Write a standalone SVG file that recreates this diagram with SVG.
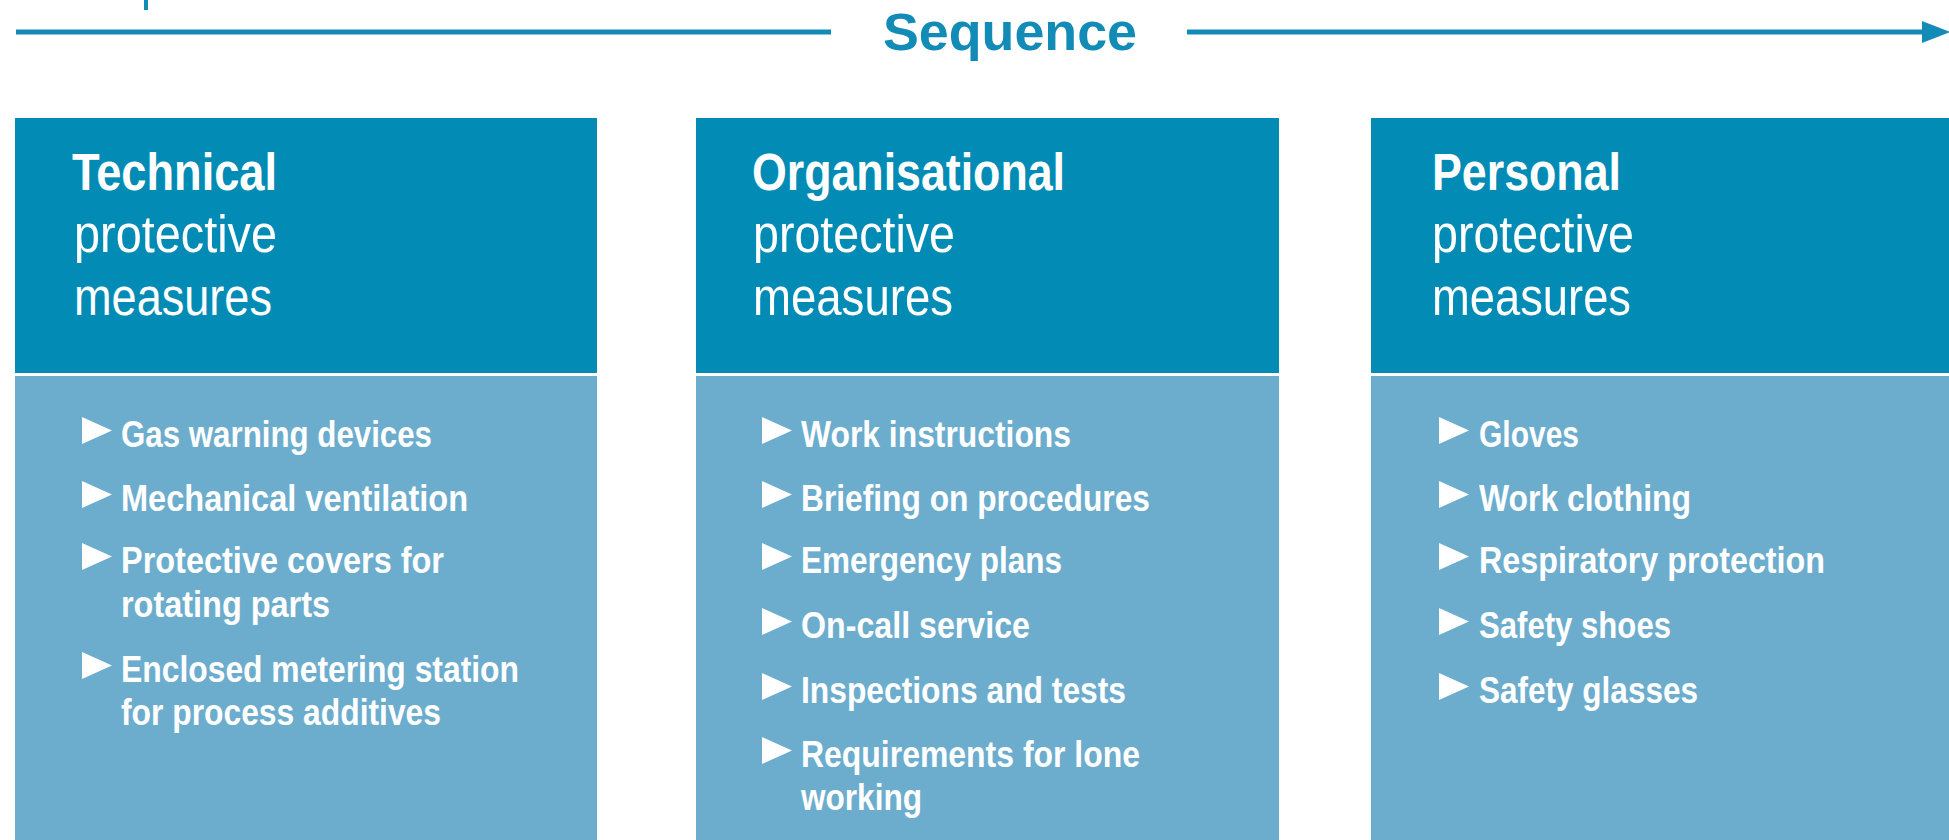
<svg xmlns="http://www.w3.org/2000/svg" width="1949" height="840" viewBox="0 0 1949 840">
  <style>
    .head { fill: #028cb5; }
    .body { fill: #6cadce; }
    .title { font-family: "Liberation Sans Narrow", "Liberation Sans", Arial, sans-serif; font-size: 51px; fill: #ffffff; }
    .title-b { font-weight: bold; }
    .item { font-family: "Liberation Sans Narrow", "Liberation Sans", Arial, sans-serif; font-size: 36px; font-weight: bold; fill: #ffffff; }
    .seq { font-family: "Liberation Sans", Arial, sans-serif; font-size: 51px; font-weight: bold; fill: #128bb6; }
    .axis { stroke: #128bb6; stroke-width: 5; fill: none; }
    .bullet { fill: #ffffff; }
  </style>
  <defs>
    <marker id="arrow" markerUnits="userSpaceOnUse" markerWidth="30" markerHeight="22" refX="0" refY="11" orient="auto" overflow="visible">
      <path d="M0,0 L28,11 L0,22 z" fill="#128bb6"/>
    </marker>
    <polygon id="tri" points="0,0 30,13.5 0,27" class="bullet"/>
  </defs>

  <rect width="1949" height="840" fill="#ffffff"/>

  <!-- small tick at the top edge -->
  <rect x="144" y="0" width="4" height="10" fill="#128bb6"/>

  <!-- sequence axis -->
  <g id="connectors">
    <line class="axis" x1="16" y1="32" x2="831" y2="32"/>
    <line class="axis" x1="1187" y1="32" x2="1922" y2="32" marker-end="url(#arrow)"/>
  </g>
  <text class="seq" x="883" y="50" textLength="254" lengthAdjust="spacingAndGlyphs">Sequence</text>

  <!-- Technical -->
  <g id="technical">
    <rect class="head" x="15" y="118" width="582" height="255"/>
    <rect class="body" x="15" y="376" width="582" height="464"/>
    <text class="title title-b" x="72" y="190" textLength="205" lengthAdjust="spacingAndGlyphs">Technical</text>
    <text class="title" x="74" y="252" textLength="203" lengthAdjust="spacingAndGlyphs">protective</text>
    <text class="title" x="74" y="315" textLength="198" lengthAdjust="spacingAndGlyphs">measures</text>
    <use href="#tri" x="82" y="417"/>
    <use href="#tri" x="82" y="481"/>
    <use href="#tri" x="82" y="543"/>
    <use href="#tri" x="82" y="652"/>
    <text class="item" x="121" y="447" textLength="311" lengthAdjust="spacingAndGlyphs">Gas warning devices</text>
    <text class="item" x="121" y="511" textLength="347" lengthAdjust="spacingAndGlyphs">Mechanical ventilation</text>
    <text class="item" x="121" y="573" textLength="323" lengthAdjust="spacingAndGlyphs">Protective covers for</text>
    <text class="item" x="121" y="617" textLength="209" lengthAdjust="spacingAndGlyphs">rotating parts</text>
    <text class="item" x="121" y="682" textLength="398" lengthAdjust="spacingAndGlyphs">Enclosed metering station</text>
    <text class="item" x="121" y="725" textLength="320" lengthAdjust="spacingAndGlyphs">for process additives</text>
  </g>

  <!-- Organisational -->
  <g id="organisational">
    <rect class="head" x="696" y="118" width="583" height="255"/>
    <rect class="body" x="696" y="376" width="583" height="464"/>
    <text class="title title-b" x="752" y="190" textLength="313" lengthAdjust="spacingAndGlyphs">Organisational</text>
    <text class="title" x="753" y="252" textLength="202" lengthAdjust="spacingAndGlyphs">protective</text>
    <text class="title" x="753" y="315" textLength="200" lengthAdjust="spacingAndGlyphs">measures</text>
    <use href="#tri" x="762" y="417"/>
    <use href="#tri" x="762" y="481"/>
    <use href="#tri" x="762" y="543"/>
    <use href="#tri" x="762" y="608"/>
    <use href="#tri" x="762" y="673"/>
    <use href="#tri" x="762" y="737"/>
    <text class="item" x="801" y="447" textLength="270" lengthAdjust="spacingAndGlyphs">Work instructions</text>
    <text class="item" x="801" y="511" textLength="349" lengthAdjust="spacingAndGlyphs">Briefing on procedures</text>
    <text class="item" x="801" y="573" textLength="261" lengthAdjust="spacingAndGlyphs">Emergency plans</text>
    <text class="item" x="801" y="638" textLength="229" lengthAdjust="spacingAndGlyphs">On-call service</text>
    <text class="item" x="801" y="703" textLength="325" lengthAdjust="spacingAndGlyphs">Inspections and tests</text>
    <text class="item" x="801" y="767" textLength="339" lengthAdjust="spacingAndGlyphs">Requirements for lone</text>
    <text class="item" x="801" y="810" textLength="121" lengthAdjust="spacingAndGlyphs">working</text>
  </g>

  <!-- Personal -->
  <g id="personal">
    <rect class="head" x="1371" y="118" width="582" height="255"/>
    <rect class="body" x="1371" y="376" width="582" height="464"/>
    <text class="title title-b" x="1432" y="190" textLength="189" lengthAdjust="spacingAndGlyphs">Personal</text>
    <text class="title" x="1432" y="252" textLength="202" lengthAdjust="spacingAndGlyphs">protective</text>
    <text class="title" x="1432" y="315" textLength="199" lengthAdjust="spacingAndGlyphs">measures</text>
    <use href="#tri" x="1439" y="417"/>
    <use href="#tri" x="1439" y="481"/>
    <use href="#tri" x="1439" y="543"/>
    <use href="#tri" x="1439" y="608"/>
    <use href="#tri" x="1439" y="673"/>
    <text class="item" x="1479" y="447" textLength="100" lengthAdjust="spacingAndGlyphs">Gloves</text>
    <text class="item" x="1479" y="511" textLength="212" lengthAdjust="spacingAndGlyphs">Work clothing</text>
    <text class="item" x="1479" y="573" textLength="346" lengthAdjust="spacingAndGlyphs">Respiratory protection</text>
    <text class="item" x="1479" y="638" textLength="192" lengthAdjust="spacingAndGlyphs">Safety shoes</text>
    <text class="item" x="1479" y="703" textLength="219" lengthAdjust="spacingAndGlyphs">Safety glasses</text>
  </g>
</svg>
